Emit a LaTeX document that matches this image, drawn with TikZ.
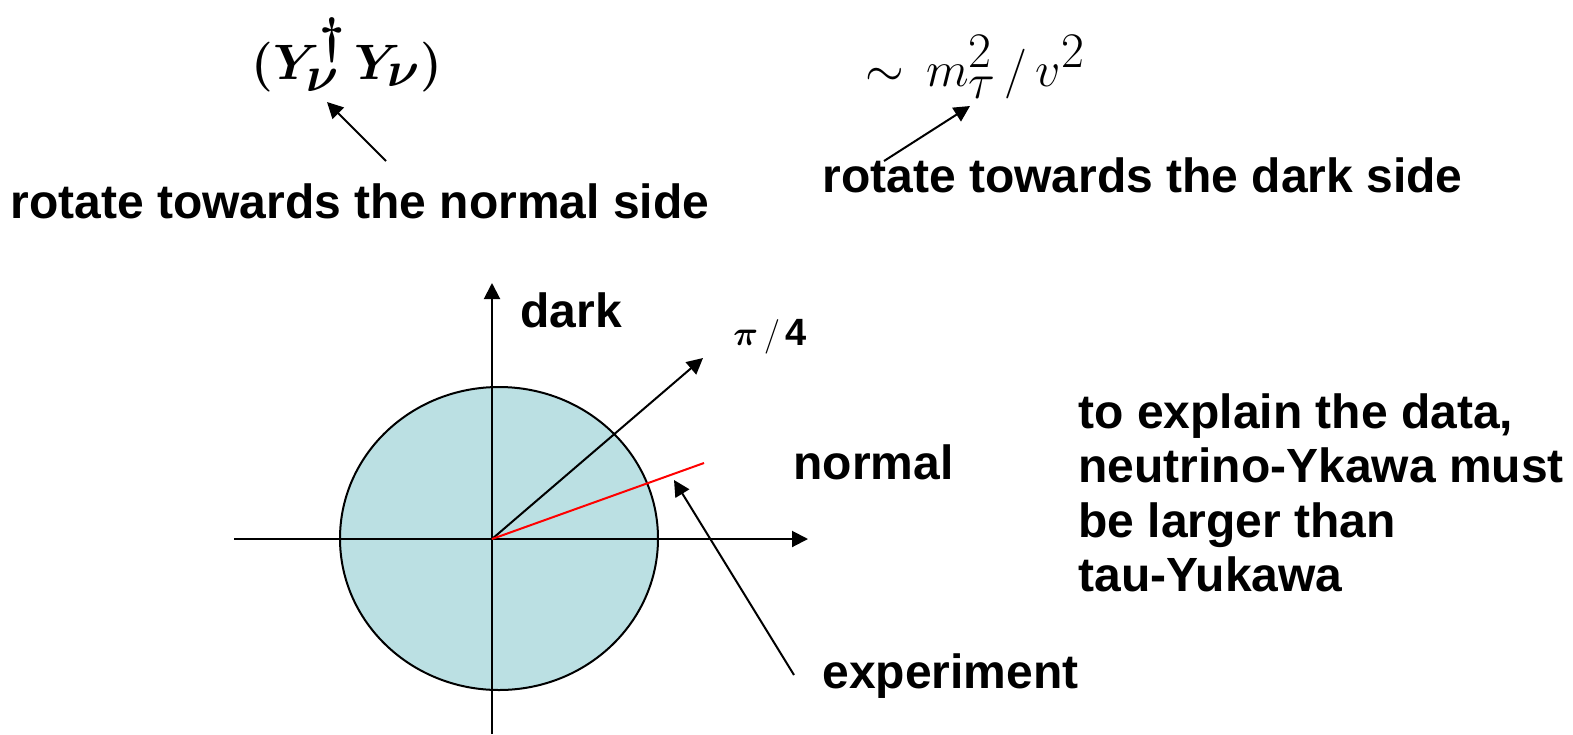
\documentclass[tikz,border=0pt]{standalone}
\usepackage{amsmath,bm}
\usepackage{fontspec}
\setmainfont{Liberation Sans}
\usepackage{tikz}
\usetikzlibrary{arrows.meta}
\definecolor{disc}{RGB}{187,224,227}
\definecolor{expt}{RGB}{255,0,0}

\begin{document}
\begin{tikzpicture}[x=0.5pt,y=-0.5pt,
  lbl/.style={font=\fontsize{24}{27.25}\selectfont\bfseries,anchor=base west,inner sep=0pt},
  frm/.style={font=\fontsize{33}{40}\selectfont,inner sep=0pt},
  ang/.style={font=\fontsize{19}{22}\selectfont\bfseries,anchor=base west,inner sep=0pt},
  arr/.style={line width=1pt,-{Triangle[length=8pt,width=8pt]}}]
\useasboundingbox (0,0) rectangle (1573,734);
% the disc and the axes
\coordinate (o) at (492,539);
\fill[disc] (499,538.5) ellipse [x radius=159,y radius=151.5];
\draw[line width=1pt] (499,538.5) ellipse [x radius=159,y radius=151.5];
\coordinate (xl) at (234,539);\coordinate (xr) at (808,539);
\coordinate (yb) at (492,734);\coordinate (yt) at (492,283);
\draw[arr] (xl)--(xr);
\draw[arr] (yb)--(yt);
\coordinate (diag) at (703,358);\coordinate (ex) at (704,463);
\draw[arr] (o)--(diag);
\draw[expt,line width=1pt] (o)--(ex);
% labels
\node[lbl] (dark) at (520,327) {dark};
\node[lbl] (norm) at (793,479) {normal};
\node[lbl] (exp) at (822,688) {experiment};
\node[ang] (quart) at (733,345) {$\bm{\pi}\,/\,$4};
\node[lbl,anchor=north west,align=left] (data) at (1078,393)
  {to explain the data,\\neutrino-Ykawa must\\be larger than\\tau-Yukawa};
\coordinate (et) at (794,675);\coordinate (eh) at (674,480);
\draw[arr] (et)--(eh);
% top formulas
\node[frm,anchor=base] (yy) at (347,79) {$\bm{(Y_\nu^\dagger\,Y_\nu)}$};
\node[frm,anchor=base west,font=\fontsize{36}{42}\selectfont] (mt) at (865,86) {$\sim\,m_\tau^2\,/\,v^2$};
\node[lbl] (rn) at (10,218) {rotate towards the normal side};
\node[lbl] (rd) at (822,192) {rotate towards the dark side};
\coordinate (nt) at (386,161);\coordinate (nh) at (327,102);
\coordinate (dt) at (884,161);\coordinate (dh) at (970,106);
\draw[arr] (nt)--(nh);
\draw[arr] (dt)--(dh);
\end{tikzpicture}
\end{document}
